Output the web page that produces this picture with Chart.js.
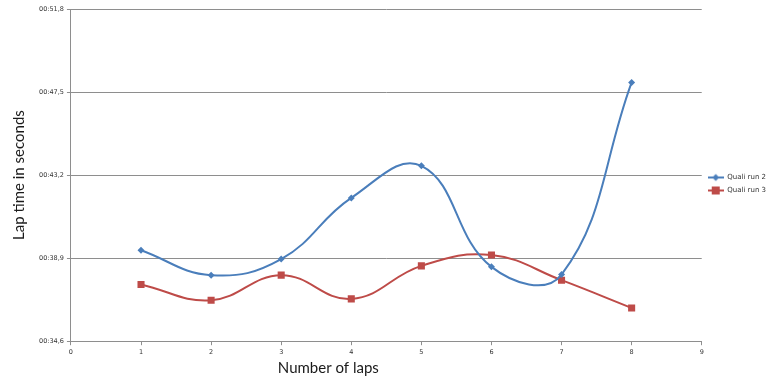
<!DOCTYPE html>
<html>
<head>
<meta charset="utf-8">
<script src="https://cdn.jsdelivr.net/npm/chart.js@4"></script>
<style>
  html, body { margin: 0; padding: 0; background: #fff; }
  #wrap { width: 768px; height: 388px; position: relative; }
</style>
</head>
<body>
<div id="wrap"><canvas id="lapChart"></canvas></div>
<script>
// lap numbers and lap times (seconds)
const laps = [1, 2, 3, 4, 5, 6, 7, 8];
const qualiRun2 = [39.31, 38.02, 38.85, 42.02, 43.68, 38.45, 38.05, 48.0];
const qualiRun3 = [37.54, 36.72, 38.02, 36.79, 38.50, 39.06, 37.76, 36.32];
const yTicks = [34.6, 38.9, 43.2, 47.5, 51.8];
const xTicks = [0, 1, 2, 3, 4, 5, 6, 7, 8, 9];

const BLUE = '#4a7ebb';
const RED = '#be4b48';
const GRID = '#8e8e8e';

function fmtTime(v) {
  return '00:' + v.toFixed(1).replace('.', ',');
}

// small legend swatch: line with the marker in the middle
function swatch(color, square) {
  const c = document.createElement('canvas');
  c.width = 16; c.height = 10;
  const g = c.getContext('2d');
  g.strokeStyle = color; g.lineWidth = 2;
  g.beginPath(); g.moveTo(0, 5); g.lineTo(16, 5); g.stroke();
  g.fillStyle = color;
  if (square) {
    g.fillRect(4, 1, 8, 8);
  } else {
    g.beginPath(); g.moveTo(8, 1.5); g.lineTo(11.5, 5); g.lineTo(8, 8.5); g.lineTo(4.5, 5); g.closePath(); g.fill();
  }
  return c;
}

const xTitle = {
  id: 'xTitle',
  afterDraw(chart) {
    const ctx = chart.ctx;
    const a = chart.chartArea;
    ctx.save();
    ctx.font = '15px Lato, "Open Sans", sans-serif';
    ctx.fillStyle = '#1a1a1a';
    ctx.textAlign = 'center';
    ctx.textBaseline = 'middle';
    ctx.fillText('Number of laps', (a.left + a.right) / 2 - 58, 368);
    ctx.restore();
  }
};

const ctx = document.getElementById('lapChart').getContext('2d');
new Chart(ctx, {
  type: 'line',
  data: {
    datasets: [{
      label: 'Quali run 2',
      data: laps.map((x, i) => ({ x: x, y: qualiRun2[i] })),
      borderColor: BLUE,
      backgroundColor: BLUE,
      borderWidth: 2,
      tension: 0.42,
      pointStyle: 'rectRot',
      pointRadius: 3.5,
      pointBorderWidth: 0,
      fill: false
    }, {
      label: 'Quali run 3',
      data: laps.map((x, i) => ({ x: x, y: qualiRun3[i] })),
      borderColor: RED,
      backgroundColor: RED,
      borderWidth: 2,
      tension: 0.42,
      pointStyle: 'rect',
      pointRadius: 5,
      pointBorderWidth: 0,
      fill: false
    }]
  },
  options: {
    responsive: true,
    maintainAspectRatio: false,
    animation: false,
    layout: { padding: { left: 10, top: 9, right: -8, bottom: 29 } },
    plugins: {
      tooltip: { enabled: false },
      legend: {
        position: 'right',
        labels: {
          usePointStyle: true,
          pointStyleWidth: 16,
          boxHeight: 10,
          padding: 6,
          color: '#333',
          font: { family: 'DejaVu Sans, Verdana, sans-serif', size: 7 },
          generateLabels(chart) {
            return chart.data.datasets.map((ds, i) => ({
              text: ds.label,
              pointStyle: swatch(ds.borderColor, i === 1),
              fillStyle: ds.borderColor,
              strokeStyle: ds.borderColor,
              lineWidth: 0,
              fontColor: '#333',
              datasetIndex: i
            }));
          }
        }
      }
    },
    scales: {
      x: {
        type: 'linear',
        min: 0,
        max: 9,
        afterBuildTicks(scale) { scale.ticks = xTicks.map(v => ({ value: v })); },
        grid: { drawOnChartArea: false, drawTicks: true, tickLength: 4, color: GRID },
        border: { color: GRID },
        ticks: {
          color: '#333',
          padding: 3,
          font: { family: 'DejaVu Sans, Verdana, sans-serif', size: 6.5 }
        }
      },
      y: {
        min: 34.6,
        max: 51.8,
        afterBuildTicks(scale) { scale.ticks = yTicks.map(v => ({ value: v })); },
        grid: { color: GRID, tickLength: 4 },
        border: { color: GRID },
        ticks: {
          color: '#333',
          padding: 3,
          font: { family: 'DejaVu Sans, Verdana, sans-serif', size: 6.5 },
          callback: v => fmtTime(v)
        },
        title: {
          display: true,
          text: 'Lap time in seconds',
          color: '#1a1a1a',
          font: { family: 'Lato, "Open Sans", sans-serif', size: 15 },
          padding: { top: 0, bottom: 8 }
        }
      }
    }
  },
  plugins: [xTitle]
});
</script>
</body>
</html>
